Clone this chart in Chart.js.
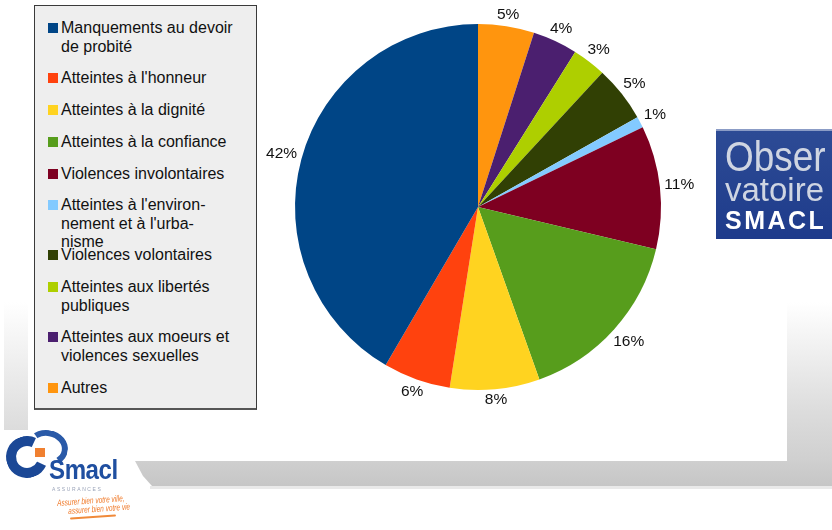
<!DOCTYPE html>
<html lang="fr">
<head>
<meta charset="utf-8">
<title>Répartition des infractions</title>
<script src="https://cdn.jsdelivr.net/npm/chart.js@4.4.1/dist/chart.umd.min.js"></script>
<style>
  html, body { margin: 0; padding: 0; background: #fff; }
  body { width: 832px; height: 530px; position: relative; overflow: hidden; font-family: 'Liberation Sans', Arial, sans-serif; }
  .deco { position: absolute; }
  .shadow-right { left: 787px; top: 302px; width: 45px; height: 184px; background: linear-gradient(#ffffff, #dcdcdc 60%, #c9c9c9); }
  .shadow-bottom { left: 135px; top: 461px; width: 697px; height: 25px; background: linear-gradient(#cfcfcf, #c6c6c6);
    clip-path: polygon(0 0, 100% 0, 100% 100%, 17px 100%, 8px 60%); }
  .shadow-line { left: 150px; top: 486px; width: 682px; height: 3px; background: #e9e9e9; }
  .shadow-left { left: 4px; top: 302px; width: 24px; height: 128px; background: linear-gradient(#ffffff, #dcdcdc); }
  #chart { position: absolute; left: 0; top: 0; }
  .legend { position: absolute; left: 34px; top: 5px; width: 221px; height: 402px; background: #eeeeee;
    border: 1px solid #3a3a3a; border-bottom: 2px solid #555; }
  .legend-item { position: absolute; left: 26px; font-size: 16px; line-height: 18.5px; color: #111; white-space: nowrap; }
  .legend-item .box { position: absolute; left: -13px; top: 4px; width: 10px; height: 10px; }
  .obs { position: absolute; left: 716px; top: 129px; width: 116px; height: 110px;
    background: linear-gradient(#2d4b95, #1e3b8b); border-top: 2px solid #8b9cc6; box-sizing: border-box; filter: blur(0.5px); }
  .obs span { position: absolute; left: 9px; white-space: nowrap; transform-origin: 0 0; }
  .obs .l1 { top: 2px; font-size: 42px; color: #cfd5e2; transform: scaleX(0.88); }
  .obs .l2 { top: 40px; font-size: 33px; color: #cfd5e2; }
  .obs .l3 { top: 75px; font-size: 25px; font-weight: bold; color: #fff; letter-spacing: 2.5px; }
  .smacl { position: absolute; left: 0; top: 428px; width: 140px; height: 100px; filter: blur(0.6px); }
  .smacl .ring { position: absolute; left: 6px; top: 8px; width: 22px; height: 22px; border: 10px solid #1b4896;
    border-radius: 50%; border-right-color: transparent; transform: rotate(-20deg); }
  .smacl .arc { position: absolute; left: 26px; top: 2px; width: 30px; height: 24px; border: 6px solid #2a5aa8;
    border-radius: 50%; border-left-color: transparent; border-bottom-color: transparent; transform: rotate(10deg); }
  .smacl .sq { position: absolute; left: 35px; top: 20px; width: 10px; height: 9px; background: #f08030; }
  .smacl .name { position: absolute; left: 49px; top: 26px; font-size: 28px; font-weight: bold; color: #1f4fa0;
    transform: scaleX(0.86); transform-origin: 0 0; letter-spacing: -0.5px; }
  .smacl .sub { position: absolute; left: 52px; top: 58px; font-size: 5px; color: #9aa3b8; letter-spacing: 1.6px; }
  .smacl .slogan { position: absolute; font-size: 9px; font-style: italic; color: #f07a2a; white-space: nowrap;
    transform: scaleX(0.72) rotate(-3deg); transform-origin: 0 0; }
  .smacl .swash { position: absolute; left: 70px; top: 88px; width: 46px; height: 2px; background: #f08a3a; border-radius: 2px; transform: rotate(-4deg); }
</style>
</head>
<body>
<div class="deco shadow-right"></div>
<div class="deco shadow-bottom"></div>
<div class="deco shadow-line"></div>
<div class="deco shadow-left"></div>

<canvas id="chart" width="832" height="530"></canvas>

<div class="legend" id="legend"></div>

<div class="obs"><span class="l1">Obser</span><span class="l2">vatoire</span><span class="l3">SMACL</span></div>

<div class="smacl">
  <div class="ring"></div><div class="arc"></div><div class="sq"></div>
  <div class="name">Smacl</div>
  <div class="sub">ASSURANCES</div>
  <div class="slogan" style="left:57px; top:70px;">Assurer bien votre ville,</div>
  <div class="slogan" style="left:68px; top:78px;">assurer bien votre vie</div>
  <div class="swash"></div>
</div>

<script>
// categories in legend order ('\n' marks where the legend text wraps)
const categories = [
  'Manquements au devoir\nde probité',
  "Atteintes à l'honneur",
  'Atteintes à la dignité',
  'Atteintes à la confiance',
  'Violences involontaires',
  "Atteintes à l'environ-\nnement et à l'urba-\nnisme",
  'Violences volontaires',
  'Atteintes aux libertés\npubliques',
  'Atteintes aux moeurs et\nviolences sexuelles',
  'Autres',
];
const percents = [42, 6, 8, 16, 11, 1, 5, 3, 4, 5];
const colors = ['#004586', '#ff420e', '#ffd320', '#579d1c', '#7e0021', '#83caff', '#314004', '#aecf00', '#4b1f6f', '#ff950e'];

// the pie runs clockwise from the top starting with the last legend entry
const pieLabels = categories.slice().reverse();
const pieValues = percents.slice().reverse();
const pieColors = colors.slice().reverse();

// legend: fixed row pitch, at most two lines reserved per entry
const legendEl = document.getElementById('legend');
let rowCenter = 22.5;
categories.forEach((cat, i) => {
  const lines = cat.split('\n');
  const item = document.createElement('div');
  item.className = 'legend-item';
  item.style.top = (rowCenter - 9.25) + 'px';
  item.innerHTML = '<span class="box" style="background:' + colors[i] + '"></span>' + lines.join('<br>');
  legendEl.appendChild(item);
  rowCenter += 31.7 + 18.5 * (Math.min(lines.length, 2) - 1);
});

// percentage labels just outside each slice
const outsideLabels = {
  id: 'outsideLabels',
  afterDatasetsDraw(chart) {
    const ctx = chart.ctx;
    const meta = chart.getDatasetMeta(0);
    ctx.save();
    ctx.font = '15.5px "Liberation Sans", Arial, sans-serif';
    ctx.fillStyle = '#111';
    ctx.textAlign = 'center';
    ctx.textBaseline = 'middle';
    meta.data.forEach((arc, i) => {
      const { x, y, startAngle, endAngle, outerRadius } = arc.getProps(['x', 'y', 'startAngle', 'endAngle', 'outerRadius'], true);
      const mid = (startAngle + endAngle) / 2;
      const text = pieValues[i] + '%';
      const hw = ctx.measureText(text).width / 2;
      const hh = 5.8;
      const dx = Math.cos(mid);
      const dy = Math.sin(mid);
      const dist = outerRadius + 4 + hw * Math.abs(dx) + hh * Math.abs(dy);
      ctx.fillText(text, x + dx * dist, y + dy * dist);
    });
    ctx.restore();
  },
};

new Chart(document.getElementById('chart'), {
  type: 'pie',
  data: {
    labels: pieLabels,
    datasets: [{
      data: pieValues,
      backgroundColor: pieColors,
      borderWidth: 0,
      hoverOffset: 0,
    }],
  },
  options: {
    responsive: false,
    animation: false,
    layout: {
      padding: { left: 295, right: 171, top: 24, bottom: 140 },
    },
    plugins: {
      legend: { display: false },
      tooltip: { enabled: false },
    },
    events: [],
  },
  plugins: [outsideLabels],
});
</script>
</body>
</html>
